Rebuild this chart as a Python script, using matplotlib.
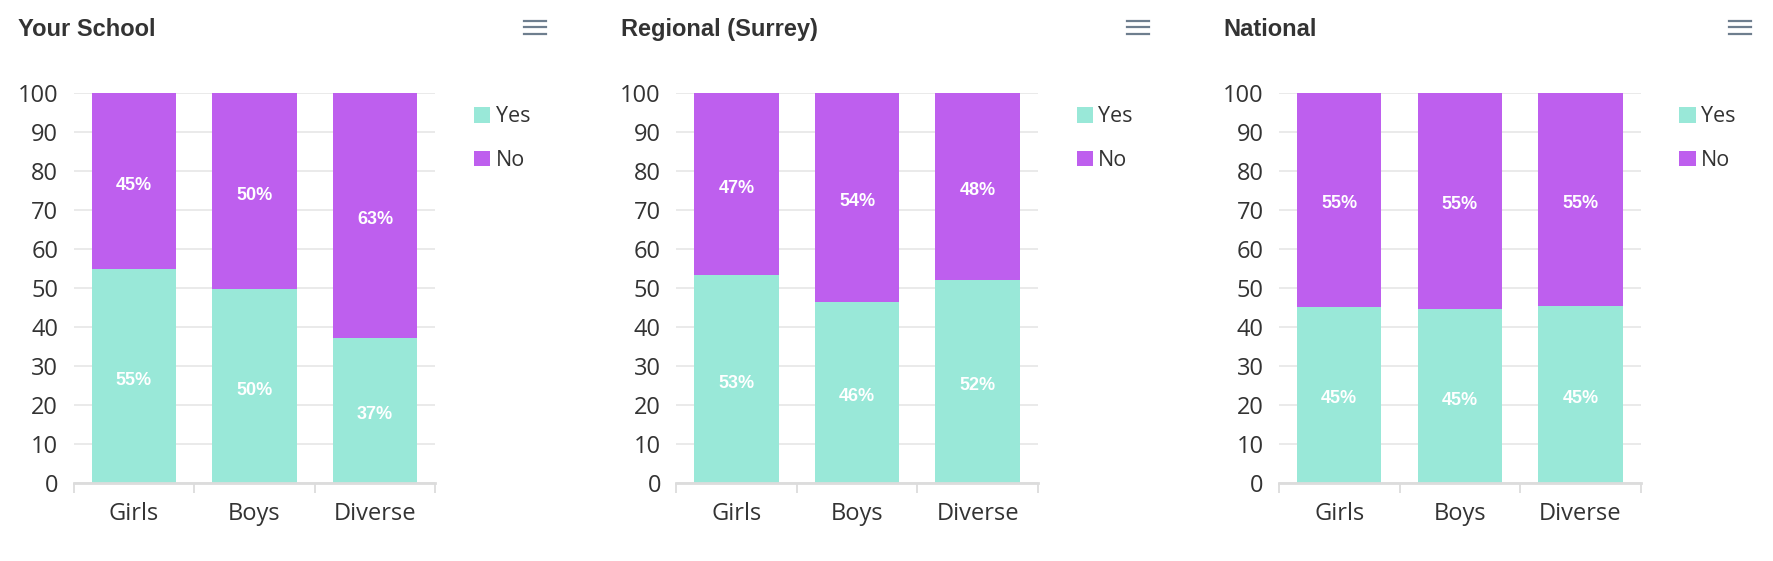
import matplotlib
matplotlib.use('Agg')
import matplotlib.pyplot as plt
from matplotlib.patches import Patch
from matplotlib.lines import Line2D
import numpy as np

# data
categories = ['Girls', 'Boys', 'Diverse']
panel_titles = ['Your School', 'Regional (Surrey)', 'National']
yes_school = [54.8, 49.6, 37.1]
no_school = [45.2, 50.4, 62.9]
yes_region = [53.3, 46.4, 51.9]
no_region = [46.7, 53.6, 48.1]
yes_nat = [45.2, 44.6, 45.4]
no_nat = [54.8, 55.4, 54.6]
yticks = list(range(0, 101, 10))

YES_COL = '#99e8d8'
NO_COL = '#be5fee'
TXT = '#333333'
GRID = '#e6e6e6'

W, H = 1773, 561
fig = plt.figure(figsize=(W / 100, H / 100), dpi=100)
fig.patch.set_facecolor('white')

panels = [(yes_school, no_school), (yes_region, no_region), (yes_nat, no_nat)]
offset = 602.7

for i, (yes, no) in enumerate(panels):
    dx = i * offset
    # axes box in pixels
    left, right, top, bottom = 73.5 + dx, 435.3 + dx, 92.7, 483.0
    ax = fig.add_axes([left / W, 1 - bottom / H, (right - left) / W, (bottom - top) / H])
    x = np.arange(len(categories))
    b1 = ax.bar(x, yes, width=0.7, color=YES_COL, zorder=2)
    b2 = ax.bar(x, no, width=0.7, bottom=yes, color=NO_COL, zorder=2)

    for bars, vals, base in [(b1, yes, [0, 0, 0]), (b2, no, yes)]:
        for xi, v, b0 in zip(x, vals, base):
            ax.annotate(f'{round(v)}%', (xi, b0 + v / 2), xytext=(0, -3),
                        textcoords='offset points', ha='center', va='center',
                        color='white', fontsize=13, fontweight='bold',
                        family=['Liberation Sans', 'DejaVu Sans'], zorder=3)

    ax.set_xlim(-0.5, 2.5)
    ax.set_ylim(0, 100)
    ax.set_yticks(yticks)
    ax.set_xticks(x)
    ax.set_xticklabels(categories)
    ax.set_xticks([-0.5, 0.5, 1.5, 2.5], minor=True)
    ax.tick_params(axis='x', which='major', length=0, pad=14, labelsize=17, labelcolor=TXT)
    ax.tick_params(axis='x', which='minor', length=7, width=1.3, color='#dcdcdc')
    ax.tick_params(axis='y', length=0, pad=11, labelsize=17, labelcolor=TXT)
    for lab in ax.get_xticklabels() + ax.get_yticklabels():
        lab.set_family(['Open Sans', 'DejaVu Sans'])
    ax.grid(axis='y', color=GRID, linewidth=1.2, zorder=0)
    for s in ['top', 'right', 'left']:
        ax.spines[s].set_visible(False)
    ax.spines['bottom'].set_color('#dcdcdc')
    ax.spines['bottom'].set_linewidth(2)
    ax.spines['bottom'].set_zorder(4)

    # title
    fig.text((18.3 + dx) / W, 1 - 36 / H, panel_titles[i], fontsize=17, fontweight='bold',
             color=TXT, family=['Liberation Sans', 'DejaVu Sans'], ha='left', va='baseline')

    # menu icon
    for yy in [20.5, 27.2, 34.0]:
        fig.add_artist(Line2D([(524 + dx) / W, (546 + dx) / W], [1 - yy / H, 1 - yy / H],
                              transform=fig.transFigure, color='#6e7e8e', linewidth=1.6))

    # legend
    handles = [Patch(facecolor=YES_COL, edgecolor='none', label='Yes'),
               Patch(facecolor=NO_COL, edgecolor='none', label='No')]
    leg = ax.legend(handles=handles, loc='upper left',
                    bbox_to_anchor=((474 + dx) / W, 1 - 106.5 / H),
                    bbox_transform=fig.transFigure, frameon=False,
                    handlelength=0.75, handleheight=0.75, handletextpad=0.25,
                    labelspacing=1.05, borderpad=0, borderaxespad=0,
                    prop={'family': ['Open Sans', 'DejaVu Sans'], 'size': 15.5})
    for t in leg.get_texts():
        t.set_color(TXT)

fig.savefig('out.png', dpi=100, facecolor='white')
